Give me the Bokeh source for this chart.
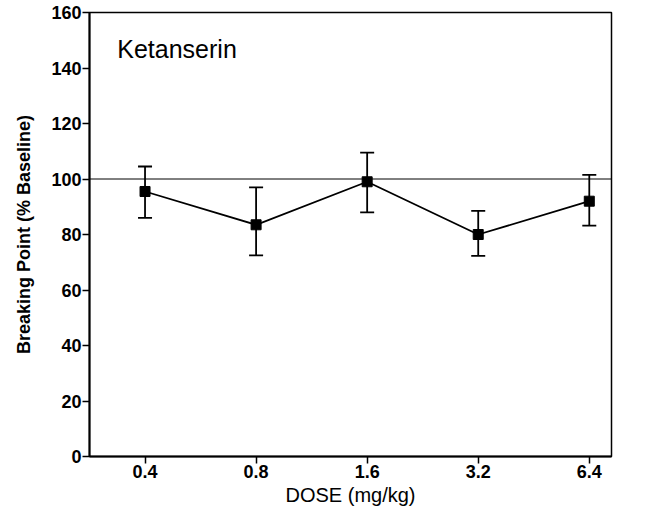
from bokeh.plotting import figure
from bokeh.models import ColumnDataSource, Whisker, TeeHead, Span, Label, FixedTicker, Range1d
from bokeh.embed import file_html
from bokeh.resources import INLINE

doses = ["0.4", "0.8", "1.6", "3.2", "6.4"]
means = [95.5, 83.5, 99.0, 80.0, 92.0]
upper = [104.5, 97.0, 109.5, 88.5, 101.5]
lower = [86.0, 72.5, 88.0, 72.3, 83.2]
baseline = 100
title_text = "Ketanserin"

xpos = list(range(len(doses)))
src = ColumnDataSource(dict(x=xpos, y=means, up=upper, lo=lower))

p = figure(width=641, height=508, output_backend="svg", toolbar_location=None,
           x_range=Range1d(-0.5, 4.2), y_range=Range1d(0, 160),
           min_border_left=89, min_border_right=30, min_border_top=12, min_border_bottom=52)

p.grid.visible = False
p.outline_line_color = "black"
p.outline_line_width = 1.5
p.background_fill_color = "white"
p.border_fill_color = "white"

p.xaxis.ticker = FixedTicker(ticks=xpos)
p.xaxis.major_label_overrides = {i: d for i, d in zip(xpos, doses)}
p.yaxis.ticker = FixedTicker(ticks=list(range(0, 161, 20)))

for ax in (p.xaxis[0], p.yaxis[0]):
    ax.axis_line_width = 2
    ax.axis_line_color = "black"
    ax.major_tick_line_width = 1.5
    ax.major_tick_line_color = "black"
    ax.major_tick_out = 7
    ax.major_tick_in = 0
    ax.minor_tick_line_color = None
    ax.major_label_text_font = "Liberation Sans"
    ax.major_label_text_font_style = "bold"
    ax.major_label_text_font_size = "18px"
    ax.major_label_text_color = "black"
    ax.axis_label_text_font = "Liberation Sans"
    ax.axis_label_text_color = "black"

p.xaxis.axis_label = "DOSE (mg/kg)"
p.yaxis.axis_label = "Breaking Point (% Baseline)"
p.xaxis.axis_label_text_font_style = "normal"
p.xaxis.axis_label_text_font_size = "20px"
p.yaxis.axis_label_text_font_style = "bold"
p.yaxis.axis_label_text_font_size = "18px"
p.xaxis.axis_label_standoff = 3
p.yaxis.axis_label_standoff = 14
p.xaxis.major_label_standoff = 1
p.yaxis.major_label_standoff = 1

p.add_layout(Span(location=baseline, dimension="width", line_color="black", line_width=1))

p.line("x", "y", source=src, line_color="black", line_width=1.8)

w = Whisker(base="x", upper="up", lower="lo", source=src, line_color="black", line_width=1.8,
            upper_head=TeeHead(size=14, line_color="black", line_width=1.8),
            lower_head=TeeHead(size=14, line_color="black", line_width=1.8))
p.add_layout(w)

p.scatter("x", "y", source=src, marker="square", size=10, fill_color="black", line_color="black")

p.add_layout(Label(x=-0.25, y=147, text=title_text, text_font="Liberation Sans",
                   text_font_size="25px", text_color="black", text_baseline="middle"))

open("out.html", "w").write(file_html(p, INLINE))
